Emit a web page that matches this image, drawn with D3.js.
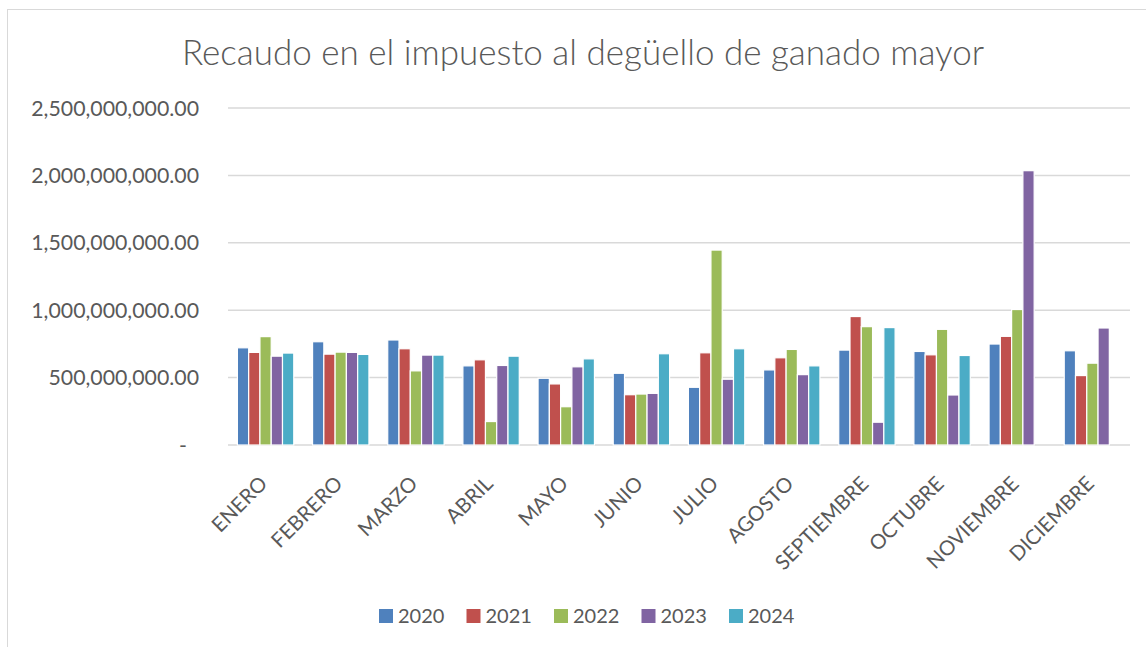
<!DOCTYPE html>
<html>
<head>
<meta charset="utf-8">
<script src="https://cdn.jsdelivr.net/npm/d3@7"></script>
<style>
  body { margin: 0; background: #fff; }
  text { font-family: Lato, "Open Sans", sans-serif; fill: #595959; }
</style>
</head>
<body>
<div id="chart"></div>
<script>
// monthly revenue, one array per year
const months = ['ENERO', 'FEBRERO', 'MARZO', 'ABRIL', 'MAYO', 'JUNIO', 'JULIO',
  'AGOSTO', 'SEPTIEMBRE', 'OCTUBRE', 'NOVIEMBRE', 'DICIEMBRE']
const years = ['2020', '2021', '2022', '2023', '2024']
const v2020 = [721e6, 766e6, 779e6, 587e6, 495e6, 532e6, 428e6, 557e6, 704e6, 694e6, 749e6, 699e6]
const v2021 = [687e6, 674e6, 714e6, 632e6, 453e6, 373e6, 684e6, 647e6, 953e6, 669e6, 806e6, 515e6]
const v2022 = [804e6, 689e6, 550e6, 174e6, 284e6, 378e6, 1446e6, 709e6, 878e6, 858e6, 1005e6, 607e6]
const v2023 = [659e6, 687e6, 667e6, 590e6, 580e6, 383e6, 488e6, 522e6, 169e6, 371e6, 2035e6, 868e6]
const v2024 = [682e6, 672e6, 667e6, 659e6, 639e6, 677e6, 714e6, 587e6, 871e6, 664e6, null, null]
const yTicks = [0, 5e8, 1e9, 1.5e9, 2e9, 2.5e9]
const colors = ['#4F81BD', '#C0504D', '#9BBB59', '#8064A2', '#4BACC6']

const series = [v2020, v2021, v2022, v2023, v2024]

const width = 1146
const height = 647
const plot = { left: 228, right: 1130, top: 108, bottom: 445 }

const svg = d3.select('#chart')
  .append('svg')
  .attr('width', width)
  .attr('height', height)

// chart frame
svg.append('rect')
  .attr('x', 7.5)
  .attr('y', 9.5)
  .attr('width', 1160)
  .attr('height', 660)
  .attr('fill', 'none')
  .attr('stroke', '#D9D9D9')

svg.append('text')
  .attr('x', 583)
  .attr('y', 65)
  .attr('text-anchor', 'middle')
  .style('font-size', '35px')
  .style('font-weight', 300)
  .text('Recaudo en el impuesto al degüello de ganado mayor')

const x0 = d3.scaleBand()
  .domain(months)
  .range([plot.left, plot.right])
  .paddingInner(0.25)
  .paddingOuter(0.125)

const x1 = d3.scaleBand()
  .domain(years)
  .range([0, x0.bandwidth()])

const y = d3.scaleLinear()
  .domain([0, 2.5e9])
  .range([plot.bottom, plot.top])

// gridlines
svg.append('g')
  .selectAll('line')
  .data(yTicks)
  .enter().append('line')
  .attr('x1', plot.left)
  .attr('x2', plot.right)
  .attr('y1', d => y(d))
  .attr('y2', d => y(d))
  .attr('stroke', '#D9D9D9')
  .attr('stroke-width', 1.5)

// y labels
const fmt = d3.format(',.2f')
svg.append('g')
  .selectAll('text')
  .data(yTicks)
  .enter().append('text')
  .attr('x', d => d === 0 ? 187 : 199)
  .attr('y', d => y(d) + 7.5)
  .attr('text-anchor', 'end')
  .style('font-size', '21.3px')
  .text(d => d === 0 ? '-' : fmt(d))

// bars
const groups = svg.append('g')
  .selectAll('g')
  .data(years)
  .enter().append('g')
  .attr('fill', (d, i) => colors[i])

groups.selectAll('rect')
  .data((yr, i) => months.map((m, j) => ({ m: m, yr: yr, v: series[i][j] })).filter(d => d.v != null))
  .enter().append('rect')
  .attr('x', d => x0(d.m) + x1(d.yr))
  .attr('width', x1.bandwidth())
  .attr('y', d => y(d.v))
  .attr('height', d => plot.bottom - y(d.v))
  .attr('stroke', '#fff')
  .attr('stroke-width', 1.2)

// month labels
svg.append('g')
  .selectAll('text')
  .data(months)
  .enter().append('text')
  .attr('transform', d => 'translate(' + (x0(d) + x0.bandwidth() / 2 + 3) + ',' + 485 + ') rotate(-45)')
  .attr('text-anchor', 'end')
  .style('font-size', '20.5px')
  .text(d => d)

// legend
const legend = svg.append('g')
  .selectAll('g')
  .data(years)
  .enter().append('g')
  .attr('transform', (d, i) => 'translate(' + (379 + i * 87.5) + ',609)')

legend.append('rect')
  .attr('width', 14)
  .attr('height', 14)
  .attr('fill', (d, i) => colors[i])

legend.append('text')
  .attr('x', 19)
  .attr('y', 14)
  .style('font-size', '20px')
  .text(d => d)
</script>
</body>
</html>
